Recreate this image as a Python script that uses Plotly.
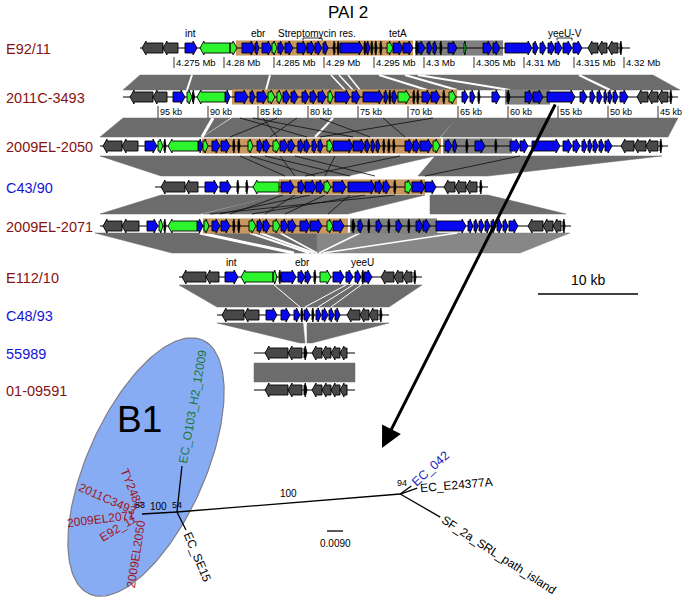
import math
import numpy as np
import plotly.graph_objects as go

# ======================= DATA =======================
TITLE = "PAI 2"
TRACK_NAMES = ["E92/11", "2011C-3493", "2009EL-2050", "C43/90", "2009EL-2071",
               "E112/10", "C48/93", "55989", "01-09591"]
TRACK_GROUP = ["red", "red", "red", "blue", "red", "red", "blue", "blue", "red"]
TRACK_LENGTH_KB = [49.0, 55.5, 56.8, 33.3, 47.1, 24.3, 17.2, 10.1, 10.1]

# genes: (start kb, end kb, strand, kind)  kind: d=flank, b=blue, g=green, k=small
GENES_E92_11 = [
    (0.2, 2.3, -1, "d"), (2.3, 3.8, -1, "d"), (4.5, 5.7, 1, "b"), (6.0, 9.0, -1, "g"), (9.0, 9.7, 1, "g"),
    (10.2, 11.5, 1, "b"), (11.5, 11.9, 1, "b"), (12.2, 13.2, 1, "b"), (13.2, 13.7, 1, "g"), (13.8, 14.4, 1, "b"),
    (14.5, 15.3, 1, "b"), (15.7, 16.7, 1, "b"), (16.7, 17.5, 1, "b"), (17.5, 18.2, 1, "b"), (18.3, 18.8, 1, "b"),
    (19.3, 19.5, -1, "k"), (19.7, 19.9, -1, "k"), (20.0, 22.3, 1, "b"), (22.4, 22.6, 1, "k"), (22.6, 23.0, 1, "b"),
    (23.1, 23.3, 1, "k"), (23.5, 23.7, 1, "k"), (24.0, 24.2, 1, "k"), (24.7, 25.3, 1, "g"), (25.3, 26.3, 1, "b"),
    (26.3, 27.3, 1, "b"), (27.6, 27.8, 1, "k"), (27.8, 28.5, 1, "b"), (28.7, 29.2, 1, "b"), (29.3, 29.7, 1, "b"),
    (30.0, 30.2, 1, "k"), (30.8, 31.7, 1, "b"), (32.4, 32.6, 1, "g"), (34.3, 35.2, 1, "b"), (35.3, 36.0, 1, "b"),
    (36.5, 39.2, 1, "b"), (39.3, 39.8, 1, "b"), (40.0, 40.6, 1, "b"), (40.8, 41.5, 1, "b"), (41.5, 42.2, 1, "b"),
    (42.3, 43.2, 1, "b"), (43.3, 44.2, 1, "b"), (44.8, 45.8, -1, "d"), (45.8, 46.7, -1, "d"), (46.8, 47.8, -1, "d"),
    (48.0, 48.2, 1, "k"),
]
GENES_2011C_3493 = [
    (0.7, 3.0, -1, "d"), (3.0, 4.4, -1, "d"), (5.0, 6.2, 1, "b"), (6.4, 6.9, 1, "g"), (6.95, 7.15, 1, "k"),
    (7.4, 10.2, -1, "g"), (10.2, 10.7, 1, "b"), (11.2, 12.5, 1, "b"), (12.7, 13.2, 1, "b"), (13.4, 14.4, 1, "b"),
    (14.5, 15.2, 1, "g"), (15.4, 15.9, 1, "g"), (16.0, 16.7, 1, "b"), (16.8, 17.5, 1, "b"), (17.9, 18.6, 1, "b"),
    (18.7, 19.4, 1, "b"), (19.5, 20.3, 1, "b"), (20.5, 21.0, 1, "g"), (21.2, 22.7, 1, "b"), (22.9, 23.7, 1, "b"),
    (24.0, 26.0, 1, "b"), (26.1, 26.5, 1, "b"), (26.6, 26.8, 1, "k"), (26.9, 27.4, 1, "b"), (27.5, 28.7, 1, "g"),
    (29.0, 29.2, 1, "k"), (29.4, 29.6, 1, "k"), (29.9, 30.8, 1, "b"), (30.8, 31.7, 1, "b"), (32.0, 32.2, 1, "k"),
    (32.6, 33.3, 1, "g"), (33.9, 34.5, 1, "b"), (34.7, 35.2, 1, "b"), (35.5, 35.7, 1, "k"), (36.9, 37.7, 1, "b"),
    (38.4, 38.7, 1, "k"), (40.2, 41.0, 1, "b"), (41.0, 42.0, 1, "b"), (42.4, 45.2, 1, "b"), (45.7, 46.4, 1, "b"),
    (46.7, 47.2, 1, "b"), (47.4, 47.9, 1, "b"), (48.1, 48.4, 1, "b"), (48.5, 48.9, 1, "b"), (49.0, 49.5, 1, "b"),
    (49.7, 50.5, 1, "b"), (51.4, 52.5, -1, "d"), (52.5, 53.5, -1, "d"), (53.5, 54.5, -1, "d"), (54.7, 54.9, 1, "k"),
]
GENES_2009EL_2050 = [
    (0.3, 2.2, -1, "d"), (2.2, 3.8, -1, "d"), (4.5, 5.7, 1, "b"), (5.8, 6.3, 1, "g"), (6.4, 6.6, 1, "k"),
    (6.8, 9.8, -1, "g"), (9.8, 10.3, 1, "b"), (10.3, 10.8, 1, "g"), (11.2, 12.0, 1, "b"), (12.1, 13.0, 1, "b"),
    (13.3, 13.5, 1, "k"), (13.8, 14.0, 1, "k"), (14.8, 15.3, 1, "g"), (15.7, 16.3, 1, "b"), (16.3, 17.0, 1, "b"),
    (17.3, 18.0, 1, "g"), (18.0, 18.8, 1, "b"), (18.8, 19.5, 1, "b"), (19.8, 20.4, 1, "b"), (20.4, 21.0, 1, "b"),
    (21.2, 21.7, 1, "b"), (21.8, 22.3, 1, "b"), (22.7, 23.3, 1, "g"), (23.3, 25.3, 1, "b"), (25.3, 26.5, 1, "b"),
    (26.5, 27.0, 1, "b"), (27.1, 27.5, 1, "b"), (27.6, 28.0, 1, "b"), (28.3, 28.5, 1, "k"), (28.8, 29.0, 1, "k"),
    (29.3, 29.5, 1, "k"), (30.5, 31.3, 1, "b"), (31.3, 32.0, 1, "b"), (32.0, 33.2, 1, "b"), (33.3, 34.0, 1, "g"),
    (34.5, 35.2, 1, "b"), (35.3, 35.7, 1, "b"), (36.6, 36.8, 1, "k"), (37.5, 38.5, 1, "b"), (39.5, 39.7, 1, "k"),
    (41.0, 42.0, 1, "b"), (42.0, 42.8, 1, "b"), (43.2, 46.0, 1, "b"), (46.3, 47.2, 1, "b"), (47.3, 48.0, 1, "b"),
    (48.2, 48.7, 1, "b"), (48.8, 49.2, 1, "b"), (49.3, 49.8, 1, "b"), (49.9, 50.4, 1, "b"), (50.5, 51.2, 1, "b"),
    (52.1, 53.4, -1, "d"), (53.4, 54.6, -1, "d"), (54.6, 55.8, -1, "d"), (56.0, 56.2, 1, "k"),
]
GENES_C43_90 = [
    (0.6, 3.0, -1, "d"), (3.0, 4.3, -1, "d"), (5.0, 6.3, 1, "b"), (6.5, 7.6, 1, "b"), (8.2, 8.4, 1, "k"),
    (9.1, 9.3, 1, "k"), (9.8, 12.4, -1, "g"), (12.6, 13.9, 1, "b"), (14.3, 15.0, 1, "b"), (15.0, 16.1, 1, "b"),
    (16.1, 16.9, 1, "b"), (16.9, 17.6, 1, "g"), (17.8, 19.1, 1, "b"), (19.3, 22.0, 1, "b"), (22.0, 22.8, 1, "b"),
    (22.8, 23.5, 1, "b"), (23.9, 24.1, 1, "k"), (25.0, 25.7, 1, "g"), (25.7, 27.0, 1, "b"), (27.0, 28.1, 1, "b"),
    (28.9, 30.0, -1, "d"), (30.0, 31.1, -1, "d"), (31.1, 32.2, -1, "d"), (32.5, 32.7, 1, "k"),
]
GENES_2009EL_2071 = [
    (0.3, 2.2, -1, "d"), (2.2, 3.9, -1, "d"), (4.7, 5.8, 1, "b"), (5.9, 6.3, 1, "g"), (6.4, 6.6, 1, "k"),
    (6.8, 9.7, -1, "g"), (9.7, 10.3, 1, "b"), (10.4, 10.9, 1, "g"), (11.2, 12.0, 1, "b"), (12.1, 13.0, 1, "b"),
    (13.3, 13.5, 1, "k"), (13.8, 14.0, 1, "k"), (14.9, 15.6, 1, "g"), (15.7, 16.3, 1, "b"), (16.3, 17.0, 1, "b"),
    (17.3, 18.0, 1, "g"), (18.1, 18.8, 1, "b"), (18.8, 19.6, 1, "b"), (20.0, 21.0, 1, "b"), (21.0, 22.2, 1, "b"),
    (22.7, 23.3, 1, "g"), (23.3, 24.4, 1, "b"), (25.2, 25.5, 1, "k"), (25.8, 26.3, 1, "b"), (26.8, 27.0, 1, "k"),
    (27.6, 28.2, 1, "b"), (28.8, 29.0, 1, "k"), (29.6, 30.2, 1, "b"), (30.8, 31.0, 1, "k"), (31.6, 32.3, 1, "b"),
    (32.3, 33.0, 1, "b"), (33.6, 36.6, 1, "b"), (36.8, 37.3, 1, "b"), (37.4, 37.8, 1, "b"), (37.9, 38.4, 1, "b"),
    (38.5, 39.0, 1, "b"), (39.1, 39.6, 1, "b"), (39.7, 40.2, 1, "b"), (40.3, 40.8, 1, "b"), (40.9, 41.8, 1, "b"),
    (42.8, 44.3, -1, "d"), (44.3, 45.3, -1, "d"), (45.3, 46.1, -1, "d"), (46.3, 46.5, 1, "k"),
]
GENES_E112_10 = [
    (0.3, 2.7, -1, "d"), (2.7, 4.0, -1, "d"), (4.6, 5.9, 1, "b"), (6.2, 9.4, -1, "g"), (9.4, 9.8, 1, "g"),
    (10.0, 10.2, 1, "k"), (10.2, 11.7, 1, "b"), (11.9, 12.6, 1, "b"), (12.6, 13.2, 1, "b"), (13.5, 13.7, 1, "k"),
    (14.1, 15.2, 1, "g"), (15.4, 16.5, 1, "b"), (16.7, 17.4, 1, "b"), (17.6, 18.2, 1, "b"), (18.3, 18.5, 1, "k"),
    (18.5, 19.3, 1, "b"), (20.2, 21.5, -1, "d"), (21.5, 22.4, -1, "d"), (22.4, 23.3, -1, "d"), (23.5, 23.7, 1, "k"),
]
GENES_C48_93 = [
    (0.5, 2.7, -1, "d"), (2.7, 4.2, -1, "d"), (4.9, 6.0, 1, "b"), (6.4, 7.3, 1, "b"), (7.7, 8.3, 1, "b"),
    (8.4, 8.6, 1, "k"), (8.7, 9.3, 1, "b"), (9.5, 9.7, 1, "k"), (9.9, 10.4, 1, "b"), (10.5, 11.1, 1, "b"),
    (11.2, 11.7, 1, "b"), (11.8, 12.3, 1, "b"), (13.0, 14.3, -1, "d"), (14.3, 15.2, -1, "d"), (15.2, 16.1, -1, "d"),
    (16.3, 16.5, 1, "k"),
]
GENES_55989 = [
    (1.1, 3.4, -1, "d"), (3.4, 4.8, -1, "d"), (5.0, 5.3, 1, "k"), (5.8, 6.8, -1, "d"), (6.8, 7.7, -1, "d"),
    (7.7, 8.6, -1, "d"), (8.6, 9.3, -1, "d"),
]
GENES_01_09591 = [
    (1.1, 3.4, -1, "d"), (3.4, 4.8, -1, "d"), (5.0, 5.3, 1, "k"), (5.8, 6.8, -1, "d"), (6.8, 7.7, -1, "d"),
    (7.7, 8.6, -1, "d"), (8.6, 9.3, -1, "d"),
]
GENES = [GENES_E92_11, GENES_2011C_3493, GENES_2009EL_2050, GENES_C43_90, GENES_2009EL_2071,
         GENES_E112_10, GENES_C48_93, GENES_55989, GENES_01_09591]

# resistance region (tan) and second region (grey) per track, in kb
RES_REGION_KB = [(9.6, 27.3), (10.9, 33.4), (10.2, 34.1), (12.4, 27.0), (10.3, 24.8), None, None, None, None]
GREY_REGION_KB = [(27.5, 36.3), (38.2, 42.7), (34.3, 41.2), None, (25.0, 33.7), None, None, None, None]

# gene labels: (track, kb, text, bracket start, bracket end)
GENE_LABELS = [
    (0, 5.0, "int", None, None), (0, 11.8, "ebr", None, None),
    (0, 17.7, "Streptomycin res.", 16.3, 18.2), (0, 25.8, "tetA", None, None),
    (0, 42.5, "yeeU-V", 41.7, 43.2),
    (5, 5.2, "int", None, None), (5, 12.3, "ebr", None, None), (5, 18.3, "yeeU", None, None),
]

# coordinate ticks
E92_TICKS_MB = [4.275, 4.28, 4.285, 4.29, 4.295, 4.3, 4.305, 4.31, 4.315, 4.32]
E92_TICK_LABELS = ["4.275 Mb", "4.28 Mb", "4.285 Mb", "4.29 Mb", "4.295 Mb", "4.3 Mb",
                   "4.305 Mb", "4.31 Mb", "4.315 Mb", "4.32 Mb"]
E92_ORIGIN_KB = 4271.6           # genome position at the left end of the E92/11 track
C2011_TICKS_KB = [95, 90, 85, 80, 75, 70, 65, 60, 55, 50, 45]
C2011_TICK_LABELS = ["95 kb", "90 kb", "85 kb", "80 kb", "75 kb", "70 kb", "65 kb",
                     "60 kb", "55 kb", "50 kb", "45 kb"]
C2011_ORIGIN_KB = 98.5           # reverse-oriented: position at the left end

# homology blocks between track i and i+1: (upper track, up start, up end, low start, low end, shade)
RIBBONS = [
    (0, 0.0, 51.3, 0.0, 55.7, "dark"),
    (1, 0.0, 10.7, 0.0, 10.2, "dark"), (1, 10.9, 33.4, 10.3, 34.0, "dark"), (1, 33.4, 55.5, 34.1, 56.8, "dark"),
    (2, 0.0, 17.9, 0.6, 12.4, "dark"), (2, 17.9, 33.5, 12.4, 19.3, "dark"), (2, 33.5, 56.2, 26.3, 33.3, "dark"),
    (3, 0.6, 12.4, 0.0, 10.0, "dark"), (3, 12.4, 27.0, 10.3, 24.8, "dark"), (3, 27.5, 33.3, 33.0, 46.6, "dark"),
    (4, -0.5, 21.7, -0.7, 13.8, "dark"), (4, 21.7, 47.0, 13.8, 34.1, "light"),
    (5, 0.0, 24.3, 0.0, 17.2, "dark"),
    (6, 0.0, 8.6, 4.6, 5.1, "dark"), (6, 9.0, 17.2, 5.3, 5.8, "dark"),
    (7, 0.0, 10.1, 0.0, 10.1, "dark"),
]
# white gaps inside blocks: (upper track, up kb, low kb, width)
GAP_LINKS = [
    (0, 5.2, 6.4, 2), (0, 13.0, 14.3, 2), (0, 19.1, 22.2, 1.5), (0, 19.9, 23.0, 1.5), (0, 20.8, 23.7, 1.5),
    (0, 23.9, 30.4, 2), (0, 26.5, 33.4, 2), (0, 27.8, 38.7, 2), (0, 43.9, 48.7, 2),
    (1, 9.0, 10.2, 3), (1, 21.0, 21.5, 2),
    (4, 10.0, 11.5, 3), (4, 15.0, 13.0, 2), (4, 16.0, 13.5, 2), (4, 18.0, 13.8, 1.5),
    (4, 26.0, 14.0, 1.5), (4, 35.7, 14.4, 1.5),
    (5, 9.5, 8.3, 1), (5, 16.7, 8.8, 1), (5, 17.4, 10.1, 1), (5, 18.2, 11.4, 1),
]
# inverted / repeated matches drawn as dark lines
CROSS_LINKS = [
    (1, 11.7, 20.7), (1, 13.0, 25.3), (1, 14.0, 17.7), (1, 15.4, 13.0), (1, 17.4, 17.0),
    (1, 19.7, 27.0), (1, 26.0, 30.5), (1, 31.0, 22.0),
    (2, 14.0, 13.0), (2, 15.0, 16.0), (2, 16.5, 19.5), (2, 18.0, 14.0), (2, 19.5, 22.0),
    (2, 23.5, 17.0), (2, 30.0, 15.0), (2, 42.0, 27.0),
    (3, 12.8, 13.0), (3, 14.0, 16.5), (3, 15.5, 12.0), (3, 17.0, 18.5), (3, 19.5, 22.8),
    (3, 21.0, 15.2), (3, 24.0, 11.0),
]
SCALE_BAR_KB = 10
SCALE_BAR_LABEL = "10 kb"
ARROW_FROM = (1, 43.3)   # (track, kb) the yeeU region pointed at

# phylogeny: (parent, child, branch length in substitutions/site, drawing angle)
TREE_EDGES = [
    ("root", "n54", 0.0197, -3.3),
    ("n54", "R", 0.1260, -4.6),
    ("n54", "EC_O103_H2_12009", 0.0260, -83.8),
    ("n54", "EC_SE15", 0.0113, 63.4),
    ("R", "EC_042", 0.0077, -36.0),
    ("R", "EC_E24377A", 0.0101, -19.0),
    ("R", "SF_2a_SRL_path_island", 0.0260, 30.0),
]
LEAF_LABEL_ANGLE = {"EC_O103_H2_12009": -80, "EC_SE15": 67, "EC_042": -42,
                    "EC_E24377A": -5, "SF_2a_SRL_path_island": 33}
LEAF_LABEL_GROUP = {"EC_O103_H2_12009": "green", "EC_SE15": "black", "EC_042": "blue",
                    "EC_E24377A": "black", "SF_2a_SRL_path_island": "black"}
B1_LEAVES = ["TY2482", "2011C3493", "2009EL2071", "E92_11", "2009EL2050"]
B1_LEAF_ANGLES = [68, 24, -7, -31, -81]
BOOTSTRAP = [("root", "83"), ("root+", "100"), ("n54", "54"), ("long", "100"), ("R", "94")]
TREE_SCALE_SUBST = 0.0090
TREE_SCALE_LABEL = "0.0090"
CLADE_LABEL = "B1"

# ======================= LAYOUT / STYLE =======================
W, H = 683, 598
PX = 10.0                        # px per kb
TRACK_X0 = [140, 123, 100, 155, 100, 179, 217, 254, 254]
TRACK_Y = [48, 97, 146, 187, 226, 277, 315, 353, 390]
RIBBON_Y = [(75, 90), (118, 137), (156, 176), (195, 214), (233, 253), (285, 307), (323, 343), (363, 382)]
BODY, WING, HEAD = 5.0, 7.0, 4.0
FONT = "Liberation Sans, Arial, Helvetica, sans-serif"
RED = "rgb(135,18,18)"
BLUE_TXT = "rgb(20,20,215)"
COL = {"d": "rgb(72,72,72)", "b": "rgb(8,8,238)", "g": "rgb(45,245,45)", "k": "rgb(0,0,0)"}
RIB_COL = {"dark": "rgb(108,108,108)", "light": "rgb(135,135,135)"}
TAN = "rgb(201,151,96)"
GREY_BG = "rgb(128,128,128)"

PX_PER_SUBST = 16.0 / 0.0090     # tree scale bar: 0.0090 subst/site = 16 px
TREE_ROOT = (142, 514)
ELLIPSE = dict(cx=146, cy=467, a=139, b=59, tilt=24)

AW = {c: 0.556 for c in "0123456789_anpdh"}
AW.update({"E": .667, "C": .722, "O": .778, "H": .722, "S": .667, "F": .611, "R": .722, "L": .556,
           "t": .278, "i": .222, "s": .5, "l": .222, "T": .611, "Y": .667, "A": .667})


def text_w(s, size):
    return sum(AW.get(c, 0.56) for c in s) * size


def kx(t, kb):
    return TRACK_X0[t] + kb * PX


fig = go.Figure()
annotations = []


def add_polys(polys, fill, line_color, line_width, name):
    xs, ys = [], []
    for px_, py_ in polys:
        xs += list(px_) + [None]
        ys += list(py_) + [None]
    fig.add_trace(go.Scatter(x=xs, y=ys, mode="lines", fill="toself", fillcolor=fill,
                             line=dict(color=line_color, width=line_width), hoverinfo="skip",
                             showlegend=False, name=name))


def add_lines(segs, color, width):
    xs, ys = [], []
    for (x1, y1, x2, y2) in segs:
        xs += [x1, x2, None]
        ys += [y1, y2, None]
    fig.add_trace(go.Scatter(x=xs, y=ys, mode="lines", line=dict(color=color, width=width),
                             hoverinfo="skip", showlegend=False))


# ---- ribbons
for shade in ("dark", "light"):
    polys = []
    for (t, s1, e1, s2, e2, sh) in RIBBONS:
        if sh != shade:
            continue
        y1, y2 = RIBBON_Y[t]
        polys.append(([kx(t, s1), kx(t, e1), kx(t + 1, e2), kx(t + 1, s2), kx(t, s1)], [y1, y1, y2, y2, y1]))
    add_polys(polys, RIB_COL[shade], RIB_COL[shade], 0.5, "ribbon")

for w in sorted(set(g[3] for g in GAP_LINKS)):
    segs = []
    for (t, a, b, ww) in GAP_LINKS:
        if ww == w:
            y1, y2 = RIBBON_Y[t]
            segs.append((kx(t, a), y1, kx(t + 1, b), y2))
    add_lines(segs, "white", w)

segs = []
for (t, a, b) in CROSS_LINKS:
    y1, y2 = RIBBON_Y[t]
    segs.append((kx(t, a), y1, kx(t + 1, b), y2))
add_lines(segs, "rgba(20,20,20,0.85)", 1.0)

# ---- region backgrounds
for regions, col in ((RES_REGION_KB, TAN), (GREY_REGION_KB, GREY_BG)):
    polys = []
    for t, r in enumerate(regions):
        if r is None:
            continue
        y = TRACK_Y[t]
        polys.append(([kx(t, r[0]), kx(t, r[1]), kx(t, r[1]), kx(t, r[0]), kx(t, r[0])],
                      [y - 7.5, y - 7.5, y + 7.5, y + 7.5, y - 7.5]))
    add_polys(polys, col, col, 0.1, "region")

# ---- backbones
add_lines([(kx(t, 0), TRACK_Y[t], kx(t, TRACK_LENGTH_KB[t]), TRACK_Y[t]) for t in range(9)], "black", 1.2)

# ---- genes
for kind in ("d", "b", "g", "k"):
    polys = []
    for t, genes in enumerate(GENES):
        yc = TRACK_Y[t]
        for (s, e, strand, kd) in genes:
            if kd != kind:
                continue
            xa, xb = kx(t, s), kx(t, e)
            h = min(HEAD, 0.6 * (xb - xa))
            if strand >= 0:
                xs = [xa, xb - h, xb - h, xb, xb - h, xb - h, xa, xa]
            else:
                xs = [xb, xa + h, xa + h, xa, xa + h, xa + h, xb, xb]
            ys = [yc - BODY, yc - BODY, yc - WING, yc, yc + WING, yc + BODY, yc + BODY, yc - BODY]
            polys.append((xs, ys))
    add_polys(polys, COL[kind], "black", 0.9, "genes")

# ---- ticks
segs = []
for mb, lab in zip(E92_TICKS_MB, E92_TICK_LABELS):
    x = kx(0, mb * 1000 - E92_ORIGIN_KB)
    segs.append((x, TRACK_Y[0] + 9, x, TRACK_Y[0] + 20))
    annotations.append(dict(x=x + 1.0, y=TRACK_Y[0] + 14.5, text=lab, xanchor="left", yanchor="middle",
                            borderpad=0, font=dict(size=9.5, color="black", family=FONT)))
for kb, lab in zip(C2011_TICKS_KB, C2011_TICK_LABELS):
    x = kx(1, C2011_ORIGIN_KB - kb)
    segs.append((x, TRACK_Y[1] + 9, x, TRACK_Y[1] + 21))
    annotations.append(dict(x=x + 0.5, y=TRACK_Y[1] + 15, text=lab, xanchor="left", yanchor="middle",
                            borderpad=0, font=dict(size=9, color="black", family=FONT)))
add_lines(segs, "black", 0.8)

# ---- gene labels and brackets
segs = []
for (t, kb, txt, b1, b2) in GENE_LABELS:
    annotations.append(dict(x=kx(t, kb), y=TRACK_Y[t] - 15, text=txt, xanchor="center", yanchor="middle",
                            font=dict(size=10, color="black", family=FONT)))
    if b1 is not None:
        yb = TRACK_Y[t] - 10
        segs += [(kx(t, b1), yb, kx(t, b2), yb), (kx(t, b1), yb, kx(t, b1), yb + 2.5),
                 (kx(t, b2), yb, kx(t, b2), yb + 2.5)]
add_lines(segs, "black", 0.8)

# ---- track names
for t, name in enumerate(TRACK_NAMES):
    annotations.append(dict(x=4, y=TRACK_Y[t] + 1, text=name, xanchor="left", yanchor="middle",
                            font=dict(size=14.5, color=RED if TRACK_GROUP[t] == "red" else BLUE_TXT,
                                      family=FONT)))

annotations.append(dict(x=W / 2 + 6, y=12, text=TITLE, xanchor="center", yanchor="middle",
                        font=dict(size=17, color="black", family=FONT)))

# ---- 10 kb scale bar
sb_x0, sb_y = 538, 294
add_lines([(sb_x0, sb_y, sb_x0 + SCALE_BAR_KB * PX, sb_y)], "black", 1.3)
annotations.append(dict(x=sb_x0 + SCALE_BAR_KB * PX / 2, y=sb_y - 14, text=SCALE_BAR_LABEL,
                        xanchor="center", yanchor="middle", font=dict(size=14, color="black", family=FONT)))

# ---- B1 ellipse
tt = np.linspace(0, 2 * np.pi, 200)
th = math.radians(ELLIPSE["tilt"])
u = ELLIPSE["a"] * np.cos(tt)
v = ELLIPSE["b"] * np.sin(tt)
ex = ELLIPSE["cx"] + u * math.sin(th) + v * math.cos(th)
ey = ELLIPSE["cy"] - u * math.cos(th) + v * math.sin(th)
fig.add_trace(go.Scatter(x=ex, y=ey, mode="lines", fill="toself", fillcolor="rgb(136,172,244)",
                         line=dict(color="rgb(125,125,135)", width=1.2), hoverinfo="skip", showlegend=False))
annotations.append(dict(x=139, y=419, text=CLADE_LABEL, xanchor="center", yanchor="middle",
                        font=dict(size=37, color="black", family=FONT)))

# ---- tree
pos = {"root": TREE_ROOT}
segs = []
for (p, c, L, ang) in TREE_EDGES:
    x0, y0 = pos[p]
    r = L * PX_PER_SUBST
    pos[c] = (x0 + r * math.cos(math.radians(ang)), y0 + r * math.sin(math.radians(ang)))
    segs.append((x0, y0, pos[c][0], pos[c][1]))
add_lines(segs, "black", 1.3)

LEAF_COLORS = {"green": "rgb(25,120,55)", "black": "black", "blue": "rgb(35,35,190)"}
LEAF_FONT = {"EC_O103_H2_12009": 12, "EC_SE15": 12, "EC_042": 12.5, "EC_E24377A": 12,
             "SF_2a_SRL_path_island": 12}
for leaf, ang in LEAF_LABEL_ANGLE.items():
    fs = LEAF_FONT[leaf]
    w = text_w(leaf, fs)
    a = math.radians(ang)
    lx, ly = pos[leaf]
    cx_ = lx + (3 + w / 2) * math.cos(a)
    cy_ = ly + (3 + w / 2) * math.sin(a)
    annotations.append(dict(x=cx_, y=cy_, text=leaf, textangle=ang, xanchor="center", yanchor="middle",
                            showarrow=False, font=dict(size=fs, color=LEAF_COLORS[LEAF_LABEL_GROUP[leaf]],
                                                       family=FONT)))
for leaf, ang in zip(B1_LEAVES, B1_LEAF_ANGLES):
    fs = 12
    w = text_w(leaf, fs)
    a = math.radians(ang)
    ex_, ey_ = TREE_ROOT[0] - 7 * math.cos(a), TREE_ROOT[1] - 7 * math.sin(a)
    annotations.append(dict(x=ex_ - w / 2 * math.cos(a), y=ey_ - w / 2 * math.sin(a), text=leaf,
                            textangle=ang, xanchor="center", yanchor="middle",
                            font=dict(size=fs, color="rgb(160,22,35)", family=FONT)))

boot_pos = {
    "root": (pos["root"][0] - 2, pos["root"][1] - 9),
    "root+": (pos["root"][0] + 16, pos["root"][1] - 8),
    "n54": (pos["n54"][0] + 0, pos["n54"][1] - 7),
    "long": ((pos["n54"][0] + pos["R"][0]) / 2, (pos["n54"][1] + pos["R"][1]) / 2 - 10),
    "R": (pos["R"][0] + 2, pos["R"][1] - 11),
}
for key, txt in BOOTSTRAP:
    bx, by = boot_pos[key]
    annotations.append(dict(x=bx, y=by, text=txt, xanchor="center", yanchor="middle",
                            font=dict(size=10 if key in ("long", "root+") else 9, color="black", family=FONT)))

# tree scale bar
tsx, tsy = 327, 531
add_lines([(tsx, tsy, tsx + TREE_SCALE_SUBST * PX_PER_SUBST, tsy)], "black", 1.3)
annotations.append(dict(x=tsx + TREE_SCALE_SUBST * PX_PER_SUBST / 2, y=tsy + 12, text=TREE_SCALE_LABEL,
                        xanchor="center", yanchor="middle", font=dict(size=10, color="black", family=FONT)))

# ---- arrow from the yeeU region to the tree
at, akb = ARROW_FROM
annotations.append(dict(x=382, y=448, ax=kx(at, akb), ay=TRACK_Y[at] + 6, axref="x", ayref="y",
                        xref="x", yref="y", showarrow=True, arrowhead=2, arrowsize=1.4, arrowwidth=3,
                        arrowcolor="black", text=""))

for an in annotations:
    an.setdefault("showarrow", False)
    an.setdefault("xref", "x")
    an.setdefault("yref", "y")

fig.update_layout(
    width=W, height=H, margin=dict(l=0, r=0, t=0, b=0),
    paper_bgcolor="white", plot_bgcolor="white",
    xaxis=dict(range=[0, W], visible=False, fixedrange=True),
    yaxis=dict(range=[H, 0], visible=False, fixedrange=True),
    annotations=annotations, showlegend=False,
)
# remove the page's default body margin so the figure sits at the window's top-left corner
fig.write_html("out.html", config={"displayModeBar": False},
               post_script="document.body.style.margin='0';document.body.style.overflow='hidden';")
